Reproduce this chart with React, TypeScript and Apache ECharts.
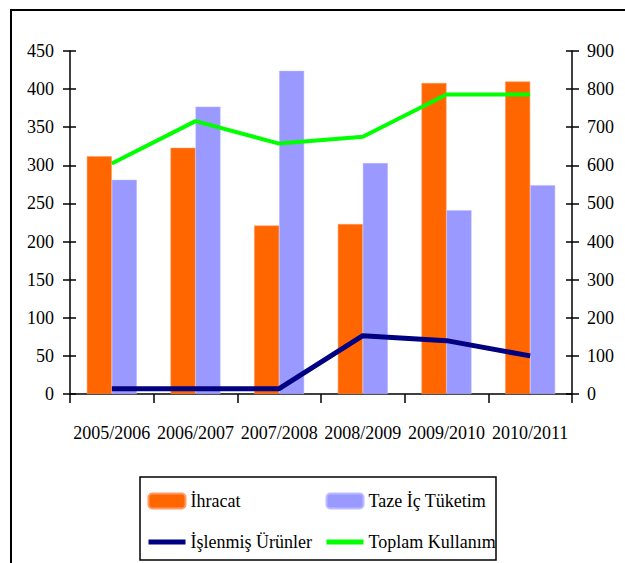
import React, { useEffect, useRef } from "react";
import * as echarts from "echarts";

const categories = ["2005/2006", "2006/2007", "2007/2008", "2008/2009", "2009/2010", "2010/2011"];
const ihracat = [312, 323, 221, 223, 408, 410];
const tazeIcTuketim = [281, 377, 424, 303, 241, 274];
const islenmisUrunler = [14, 14, 14, 153, 140, 100];
const toplamKullanim = [605, 716, 657, 675, 786, 786];

const FONT = "Liberation Serif";

export default function App() {
  const ref = useRef<HTMLDivElement>(null);
  useEffect(() => {
    if (!ref.current) return;
    const chart = echarts.init(ref.current, null, { renderer: "svg" });
    const axisLine = { show: true, lineStyle: { color: "#000", width: 1.5 } };
    const tickStyle = { color: "#000", width: 1.5 };
    const labelStyle = { color: "#000", fontFamily: FONT, fontSize: 18 };
    chart.setOption({
      animation: false,
      backgroundColor: "#fff",
      textStyle: { fontFamily: FONT, color: "#000" },
      grid: { left: 70, right: 53, top: 51, height: 343, containLabel: false },
      xAxis: {
        type: "category",
        data: categories,
        boundaryGap: true,
        axisLine,
        axisTick: { show: true, length: 9, lineStyle: tickStyle, interval: 0 },
        axisLabel: { ...labelStyle, margin: 30, interval: 0 },
      },
      yAxis: [
        {
          type: "value", position: "left", min: 0, max: 450, interval: 50,
          axisLine, splitLine: { show: false },
          axisTick: { show: true, length: 7, lineStyle: tickStyle },
          axisLabel: { ...labelStyle, margin: 16 },
        },
        {
          type: "value", position: "right", min: 0, max: 900, interval: 100,
          axisLine, splitLine: { show: false },
          axisTick: { show: true, length: 7, lineStyle: tickStyle },
          axisLabel: { ...labelStyle, margin: 15 },
        },
        {
          type: "value", position: "left", min: 0, max: 450, interval: 50,
          axisLine: { show: false }, splitLine: { show: false },
          axisTick: { show: true, inside: true, length: 6, lineStyle: tickStyle },
          axisLabel: { show: false },
        },
        {
          type: "value", position: "right", min: 0, max: 900, interval: 100,
          axisLine: { show: false }, splitLine: { show: false },
          axisTick: { show: true, inside: true, length: 6, lineStyle: tickStyle },
          axisLabel: { show: false },
        },
      ],
      legend: [
        {
          orient: "vertical", left: 146, top: 492, padding: 0,
          itemWidth: 37, itemHeight: 15, itemGap: 23,
          data: [
            { name: "İhracat" },
            { name: "İşlenmiş Ürünler", itemStyle: { opacity: 0 }, lineStyle: { width: 5, color: "#000080" } },
          ],
          textStyle: { ...labelStyle },
        },
        {
          orient: "vertical", left: 324, top: 492, padding: 0,
          itemWidth: 37, itemHeight: 15, itemGap: 23,
          data: [
            { name: "Taze İç Tüketim" },
            { name: "Toplam Kullanım", itemStyle: { opacity: 0 }, lineStyle: { width: 5, color: "#00FF00" } },
          ],
          textStyle: { ...labelStyle },
        },
      ],
      graphic: [
        {
          type: "polyline",
          shape: { points: [[11, 563], [11, 10], [625, 10]] },
          style: { stroke: "#000", lineWidth: 2, fill: "none" },
        },
        {
          type: "rect",
          shape: { x: 140, y: 477, width: 356, height: 83 },
          style: { stroke: "#000", lineWidth: 1.5, fill: "none" },
        },
      ],
      series: [
        {
          name: "İhracat", type: "bar", data: ihracat, yAxisIndex: 0,
          barWidth: 25, barGap: "0%",
          itemStyle: { color: "#FF6600", borderColor: "#FF9966", borderWidth: 0.5 },
        },
        {
          name: "Taze İç Tüketim", type: "bar", data: tazeIcTuketim, yAxisIndex: 0,
          barWidth: 25, barGap: "0%",
          itemStyle: { color: "#9999FF", borderColor: "#BBBBFF", borderWidth: 0.5 },
        },
        {
          name: "İşlenmiş Ürünler", type: "line", data: islenmisUrunler, yAxisIndex: 1,
          symbol: "none", lineStyle: { color: "#000080", width: 5 }, itemStyle: { color: "#000080" },
        },
        {
          name: "Toplam Kullanım", type: "line", data: toplamKullanim, yAxisIndex: 1,
          symbol: "none", lineStyle: { color: "#00FF00", width: 4 }, itemStyle: { color: "#00FF00" },
        },
      ],
    });
    return () => chart.dispose();
  }, []);
  return (
    <div
      ref={ref}
      style={{ position: "fixed", left: 0, top: 0, width: 625, height: 563, background: "#fff" }}
    />
  );
}
